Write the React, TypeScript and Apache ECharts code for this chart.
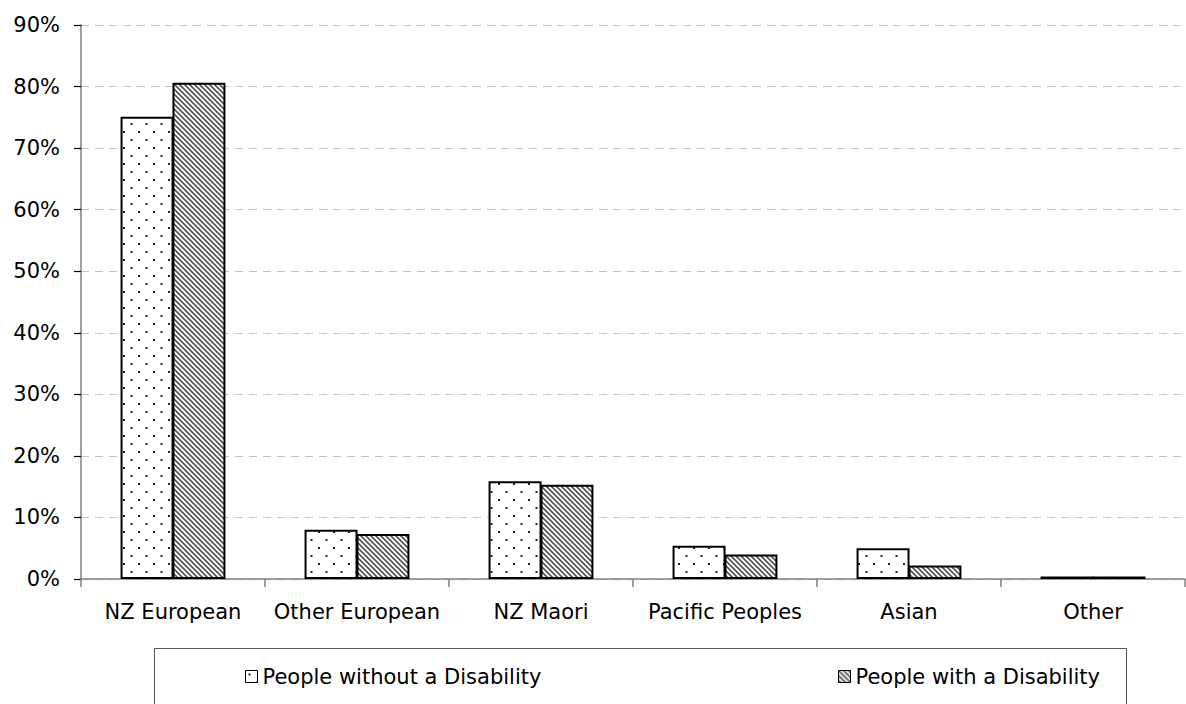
import React, { useEffect, useRef } from "react";
import * as echarts from "echarts";

const categories = ["NZ European", "Other European", "NZ Maori", "Pacific Peoples", "Asian", "Other"];
const withoutDisability = [75.1, 8.0, 15.9, 5.4, 5.0, 0.4];
const withDisability = [80.6, 7.3, 15.3, 4.0, 2.2, 0.4];
const seriesNames = ["People without a Disability", "People with a Disability"];
const yTicks = { min: 0, max: 90, interval: 10 };

const FONT = "DejaVu Sans";

// Staggered dot fill
function makeDotPattern(): HTMLCanvasElement {
  const c = document.createElement("canvas");
  c.width = 15;
  c.height = 16;
  const ctx = c.getContext("2d")!;
  ctx.fillStyle = "#ffffff";
  ctx.fillRect(0, 0, 15, 16);
  ctx.fillStyle = "#222222";
  ctx.fillRect(3, 3, 2, 2);
  ctx.fillRect(10.5, 11, 2, 2);
  return c;
}

// Diagonal "\" hatch fill
function makeHatchPattern(): HTMLCanvasElement {
  const s = 5;
  const c = document.createElement("canvas");
  c.width = s;
  c.height = s;
  const ctx = c.getContext("2d")!;
  ctx.fillStyle = "#ffffff";
  ctx.fillRect(0, 0, s, s);
  ctx.strokeStyle = "#555555";
  ctx.lineWidth = 1.7;
  ctx.beginPath();
  ctx.moveTo(-1, -1);
  ctx.lineTo(s + 1, s + 1);
  ctx.moveTo(-1, s - 1);
  ctx.lineTo(1, s + 1);
  ctx.moveTo(s - 1, -1);
  ctx.lineTo(s + 1, 1);
  ctx.stroke();
  return c;
}

export default function App() {
  const ref = useRef<HTMLDivElement>(null);

  useEffect(() => {
    if (!ref.current) return;
    const chart = echarts.init(ref.current, null, { renderer: "svg" });
    const dots = { image: makeDotPattern(), repeat: "repeat" } as any;
    const hatch = { image: makeHatchPattern(), repeat: "repeat" } as any;

    const legendText = { fontFamily: FONT, fontSize: 21, color: "#000" };
    const legendBase = {
      top: 666,
      padding: 0,
      icon: "rect",
      itemWidth: 12,
      itemHeight: 12,
      itemGap: 5,
      textStyle: legendText,
    };

    chart.setOption({
      animation: false,
      backgroundColor: "#ffffff",
      grid: { left: 81, right: 1, top: 25, bottom: 125, containLabel: false },
      legend: [
        {
          ...legendBase,
          left: 245,
          data: [{ name: seriesNames[0], itemStyle: { borderWidth: 1, borderColor: "#000" } }],
        },
        {
          ...legendBase,
          left: 838,
          data: [{ name: seriesNames[1], itemStyle: { borderWidth: 1, borderColor: "#000" } }],
        },
      ],
      graphic: [
        {
          type: "rect",
          shape: { x: 154.5, y: 648.5, width: 972, height: 70 },
          style: { fill: "none", stroke: "#555555", lineWidth: 1 },
          silent: true,
          z: -1,
        },
      ],
      xAxis: {
        type: "category",
        data: categories,
        axisLine: { lineStyle: { color: "#808080", width: 1.5 } },
        axisTick: { show: true, length: 8, alignWithLabel: false, lineStyle: { color: "#808080", width: 1.5 } },
        axisLabel: { margin: 22, color: "#000", fontFamily: FONT, fontSize: 21, interval: 0 },
        splitLine: { show: false },
      },
      yAxis: {
        type: "value",
        min: yTicks.min,
        max: yTicks.max,
        interval: yTicks.interval,
        axisLine: { show: true, lineStyle: { color: "#808080", width: 1.5 } },
        axisTick: { show: true, length: 7, inside: false, lineStyle: { color: "#000", width: 1.2 } },
        axisLabel: {
          margin: 21,
          color: "#000",
          fontFamily: FONT,
          fontSize: 21,
          formatter: (v: number) => `${v}%`,
        },
        splitLine: { show: true, lineStyle: { color: "#c4c4c4", width: 1, type: [8, 6] } },
      },
      series: [
        {
          name: seriesNames[0],
          type: "bar",
          data: withoutDisability,
          barGap: "-2%",
          barCategoryGap: "43%",
          itemStyle: { color: dots, borderColor: "#000", borderWidth: 2 },
        },
        {
          name: seriesNames[1],
          type: "bar",
          data: withDisability,
          barGap: "-2%",
          barCategoryGap: "43%",
          itemStyle: { color: hatch, borderColor: "#000", borderWidth: 2 },
        },
      ],
    });

    return () => chart.dispose();
  }, []);

  return (
    <div
      ref={ref}
      style={{ position: "absolute", left: 0, top: 0, width: 1186, height: 704, background: "#fff" }}
    />
  );
}
